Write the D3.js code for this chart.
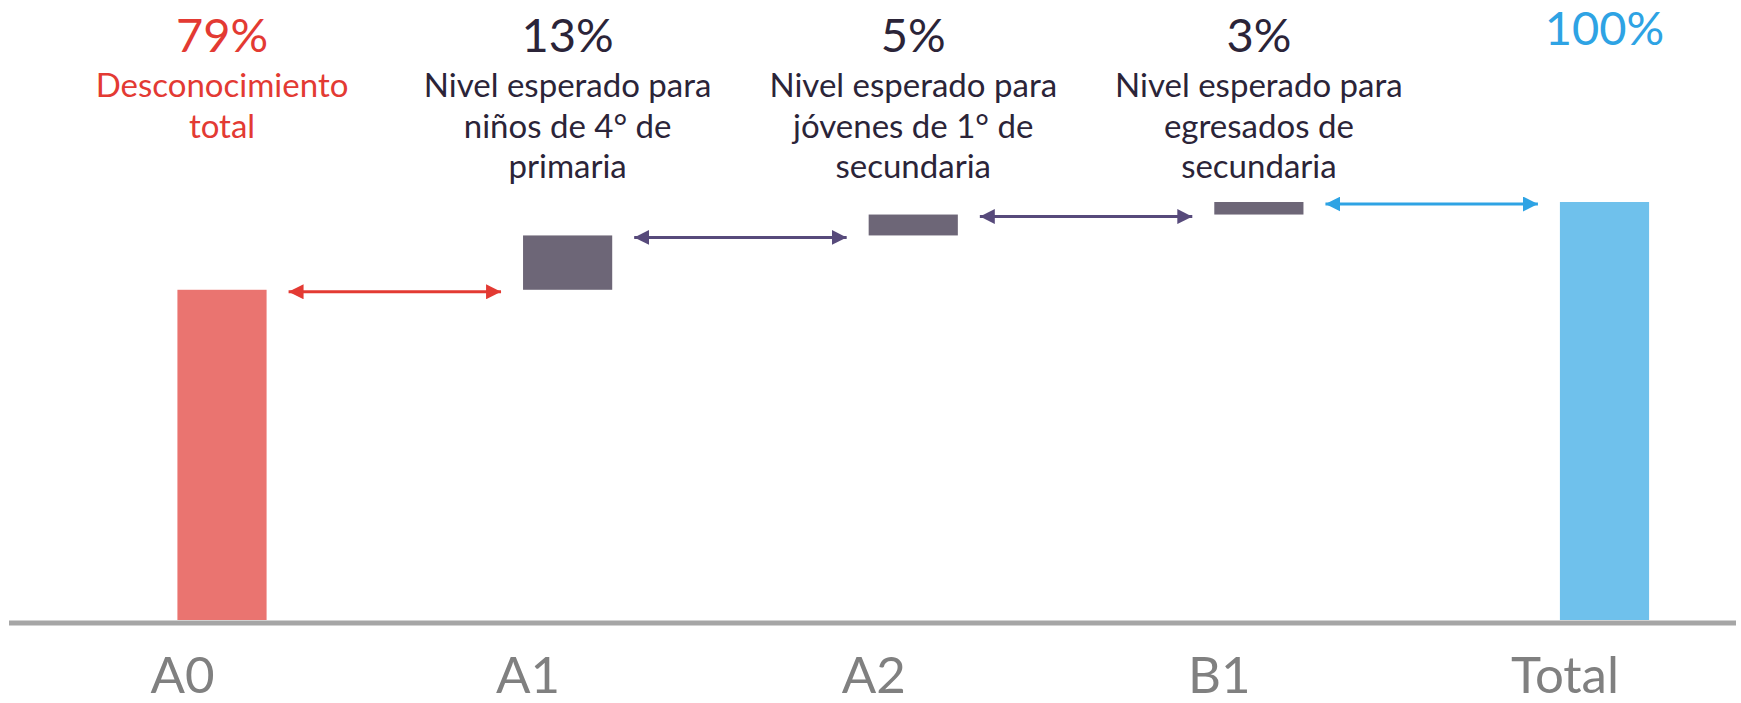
<!DOCTYPE html>
<html>
<head>
<meta charset="utf-8">
<script src="https://cdn.jsdelivr.net/npm/d3@7"></script>
<style>
  html, body { margin: 0; padding: 0; background: #fff; }
  svg { display: block; font-family: Lato, "Open Sans", sans-serif; }
</style>
</head>
<body>
<svg id="chart" width="1741" height="703"></svg>
<script>
const categories = ["A0", "A1", "A2", "B1", "Total"];
const values = [79, 13, 5, 3, 100];
const valueLabels = ["79%", "13%", "5%", "3%", "100%"];
const descriptions = [
  ["Desconocimiento", "total"],
  ["Nivel esperado para", "niños de 4° de", "primaria"],
  ["Nivel esperado para", "jóvenes de 1° de", "secundaria"],
  ["Nivel esperado para", "egresados de", "secundaria"],
  []
];
const barColors = ["#EA7470", "#6D6677", "#6D6677", "#6D6677", "#6FC1EC"];
const labelColors = ["#E33A33", "#2B2438", "#2B2438", "#2B2438", "#2EA3E4"];
const arrowColors = ["#E33A33", "#574A7B", "#574A7B", "#2EA3E4"];

const svg = d3.select("#chart");
const defs = svg.append("defs");

const x = d3.scalePoint().domain(categories).range([222, 1604.5]);
const barW = x.step() * 0.258;
const y = d3.scaleLinear().domain([0, 100]).range([620, 202]);

// waterfall start/end
let cum = 0;
const bars = categories.map((c, i) => {
  let y0, y1;
  if (c === "Total") { y0 = 0; y1 = values[i]; }
  else { y0 = cum; y1 = cum + values[i]; cum = y1; }
  return { c, i, y0, y1 };
});

// bars
svg.append("g").selectAll("rect").data(bars).join("rect")
  .attr("x", d => x(d.c) - barW / 2)
  .attr("width", barW)
  .attr("y", d => y(d.y1))
  .attr("height", d => y(d.y0) - y(d.y1))
  .attr("fill", d => barColors[d.i]);

// axis baseline
const axisG = svg.append("g").attr("transform", `translate(0,${y(0) + 3})`);
const axis = d3.axisBottom(x).tickSize(0).tickPadding(0);
axisG.call(axis);
axisG.select(".domain").remove();
axisG.append("line").attr("x1", 9).attr("x2", 1736).attr("y1", 0).attr("y2", 0)
  .attr("stroke", "#A6A6A6").attr("stroke-width", 5);
axisG.selectAll(".tick text")
  .attr("x", -40)
  .attr("y", 70)
  .attr("dy", 0)
  .attr("fill", "#808080")
  .style("font-family", "Lato, 'Open Sans', sans-serif")
  .style("font-size", "51px");

// arrows
arrowColors.forEach((col, k) => {
  defs.append("marker")
    .attr("id", "ah" + k)
    .attr("viewBox", "0 0 10 10")
    .attr("refX", 10).attr("refY", 5)
    .attr("markerUnits", "userSpaceOnUse")
    .attr("markerWidth", 15).attr("markerHeight", 15)
    .attr("orient", "auto-start-reverse")
    .append("path").attr("d", "M0,0 L10,5 L0,10 Z").attr("fill", col);
});
const arrows = bars.slice(0, 4).map((d, k) => ({
  k,
  x1: x(d.c) + barW / 2 + 22,
  x2: x(categories[k + 1]) - barW / 2 - 22,
  yy: y(d.y1) + 2
}));
svg.append("g").selectAll("line").data(arrows).join("line")
  .attr("x1", d => d.x1).attr("x2", d => d.x2)
  .attr("y1", d => d.yy).attr("y2", d => d.yy)
  .attr("stroke", d => arrowColors[d.k])
  .attr("stroke-width", 3)
  .attr("marker-start", d => `url(#ah${d.k})`)
  .attr("marker-end", d => `url(#ah${d.k})`);

// value labels
svg.append("g").selectAll("text").data(bars).join("text")
  .attr("x", d => x(d.c))
  .attr("y", d => d.c === "Total" ? 45 : 52)
  .attr("text-anchor", "middle")
  .attr("fill", d => labelColors[d.i])
  .style("font-size", "47px")
  .text(d => valueLabels[d.i]);

// descriptions
const descG = svg.append("g").selectAll("text").data(bars).join("text")
  .attr("text-anchor", "middle")
  .attr("fill", d => labelColors[d.i])
  .style("font-size", "33px");
descG.selectAll("tspan").data(d => descriptions[d.i].map(t => ({ t, c: d.c })))
  .join("tspan")
  .attr("x", d => x(d.c))
  .attr("y", (d, j) => 97 + j * 40.5)
  .text(d => d.t);
</script>
</body>
</html>
